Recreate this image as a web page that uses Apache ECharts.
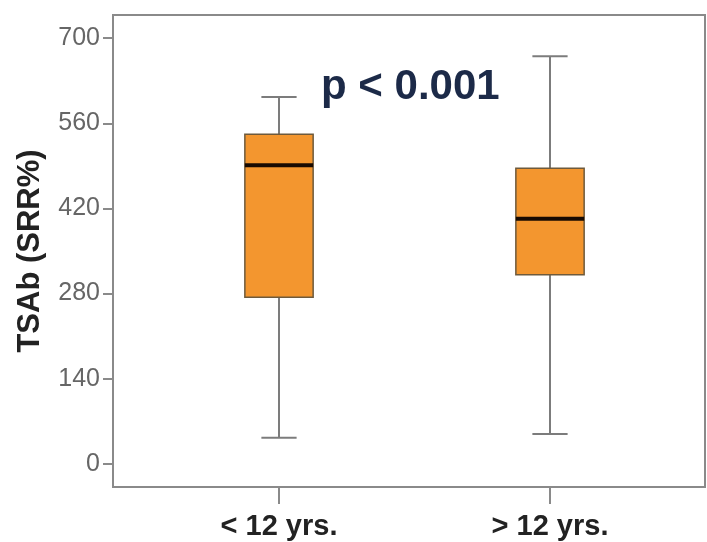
<!DOCTYPE html>
<html><head><meta charset="utf-8">
<script src="https://cdn.jsdelivr.net/npm/echarts@6/dist/echarts.min.js"></script>
<style>html,body{margin:0;padding:0;background:#fff}#c{width:707px;height:542px}</style>
</head><body><div id="c"></div>
<script>
const categories = ['< 12 yrs.', '> 12 yrs.'];
const whiskerLow = [43, 49];
const q1 = [274, 311];
const median = [491, 403];
const q3 = [542, 486];
const whiskerHigh = [603, 670];
const yTicks = [0, 140, 280, 420, 560, 700];
const yTitle = 'TSAb (SRR%)';
const pLabel = 'p < 0.001';

const data = categories.map((c, i) => [i, whiskerLow[i], q1[i], median[i], q3[i], whiskerHigh[i]]);
const FONT = '"Liberation Sans", Arial, sans-serif';
const YMIN = -38, YMAX = 738;

function renderBox(params, api) {
  const idx = api.value(0);
  const band = api.size([1, 0])[0];
  const bw = band * 0.252;
  const cw = band * 0.13;
  const x = api.coord([idx, 0])[0];
  const yL = api.coord([idx, api.value(1)])[1];
  const y1 = api.coord([idx, api.value(2)])[1];
  const ym = api.coord([idx, api.value(3)])[1];
  const y3 = api.coord([idx, api.value(4)])[1];
  const yH = api.coord([idx, api.value(5)])[1];
  const ws = { stroke: '#7c7c7c', lineWidth: 2 };
  return {
    type: 'group',
    children: [
      { type: 'line', shape: { x1: x, y1: yL, x2: x, y2: y1 }, style: ws },
      { type: 'line', shape: { x1: x, y1: y3, x2: x, y2: yH }, style: ws },
      { type: 'line', shape: { x1: x - cw / 2, y1: yL, x2: x + cw / 2, y2: yL }, style: ws },
      { type: 'line', shape: { x1: x - cw / 2, y1: yH, x2: x + cw / 2, y2: yH }, style: ws },
      { type: 'rect', shape: { x: x - bw / 2, y: y3, width: bw, height: y1 - y3 },
        style: { fill: '#F3962F', stroke: '#6e5a3c', lineWidth: 1.5 } },
      { type: 'line', shape: { x1: x - bw / 2, y1: ym, x2: x + bw / 2, y2: ym },
        style: { stroke: '#170a02', lineWidth: 4 } }
    ]
  };
}

const chart = echarts.init(document.getElementById('c'), null, { renderer: 'canvas' });
chart.setOption({
  animation: false,
  backgroundColor: '#fff',
  grid: [
    { left: 113, top: 15, width: 592, height: 472, show: true, borderColor: '#8a8a8a', borderWidth: 2, backgroundColor: 'transparent' },
    { left: 143.5, top: 15, width: 542, height: 472 }
  ],
  xAxis: [
    { gridIndex: 0, type: 'value', min: 0, max: 1, show: false },
    { gridIndex: 1, type: 'category', data: categories, position: 'bottom',
      axisLine: { show: false, onZero: false },
      axisTick: { show: true, alignWithLabel: true, length: 17, lineStyle: { color: '#8a8a8a', width: 2 } },
      axisLabel: { margin: 25, fontFamily: FONT, fontWeight: 'bold', fontSize: 29, color: '#222' },
      splitLine: { show: false } }
  ],
  yAxis: [
    { gridIndex: 0, type: 'value', min: YMIN, max: YMAX,
      name: yTitle, nameLocation: 'middle', nameGap: 67,
      nameTextStyle: { fontFamily: FONT, fontWeight: 'bold', fontSize: 31, color: '#222' },
      axisLine: { show: true, onZero: false, lineStyle: { color: '#8a8a8a', width: 2 } },
      axisTick: { show: true, length: 10, customValues: yTicks, lineStyle: { color: '#8a8a8a', width: 2 } },
      axisLabel: { margin: 13, customValues: yTicks, fontFamily: FONT, fontSize: 25, color: '#666' },
      splitLine: { show: false } },
    { gridIndex: 1, type: 'value', min: YMIN, max: YMAX, show: false, splitLine: { show: false } }
  ],
  series: [{
    type: 'custom',
    xAxisIndex: 1,
    yAxisIndex: 1,
    renderItem: renderBox,
    encode: { x: 0, y: [1, 2, 3, 4, 5] },
    data: data
  }],
  graphic: [{
    type: 'text', left: 321, top: 66,
    style: { text: pLabel, fontFamily: FONT, fontWeight: 'bold', fontSize: 42, fill: '#1c2a48' }
  }]
});
</script>
</body></html>
